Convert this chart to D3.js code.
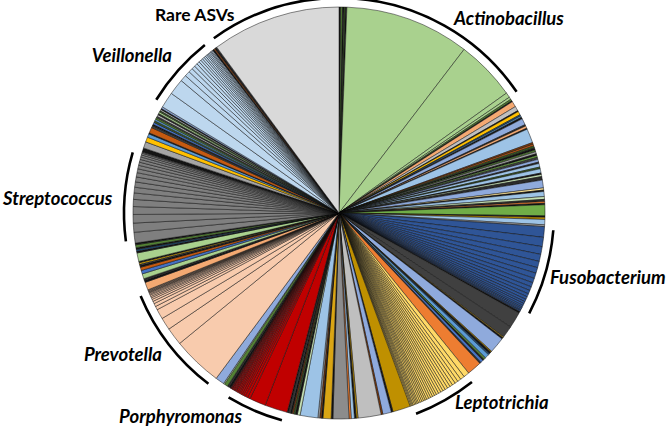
<!DOCTYPE html>
<html>
<head>
<meta charset="utf-8">
<script src="https://cdn.jsdelivr.net/npm/d3@7"></script>
<style>
  html, body { margin: 0; padding: 0; background: #ffffff; }
  svg { display: block; }
</style>
</head>
<body>
<svg id="chart" width="668" height="430"></svg>
<script>
// ---------------- DATA (relative abundance of ASVs, clockwise from 12 o'clock) ----------------
// Labelled genera: one value per ASV
const actinobacillus = [35.2, 17.0, 1.4, 0.7];
const fusobacterium  = [3.0, 2.6, 2.2, 2.0, 1.8, 1.6, 1.5, 1.3, 1.2, 1.1, 1.0, 0.9, 0.8, 0.7, 0.6, 0.6, 0.5, 0.4, 0.4, 0.3, 0.3];
const leptotrichia   = [1.6, 1.2, 1.0, 0.9, 0.9, 0.8, 0.8, 0.8, 0.7, 0.7, 0.7, 0.7, 0.6, 0.6, 0.6, 0.6, 0.6, 0.5, 0.5, 0.5, 0.5, 0.5, 0.4, 0.4, 0.4, 0.4, 0.3, 0.3, 0.3];
const porphyromonas  = [6.4, 4.6, 0.8, 0.7, 0.6, 0.5, 0.5, 0.4, 0.4, 0.4, 0.3, 0.3, 0.3, 0.3, 0.2, 0.2, 0.2];
const prevotella     = [14.1, 5.0, 3.5, 2.8, 1.0, 0.9, 0.7, 0.6, 0.5, 0.4, 0.4, 0.3, 0.3, 0.2, 0.2, 0.2, 0.2, 0.2];
const streptococcus  = [3.0, 2.6, 2.4, 2.2, 2.0, 1.8, 1.6, 1.5, 1.4, 1.2, 1.1, 1.0, 0.9, 0.8, 0.7, 0.6, 0.5, 0.3];
const veillonella    = [4.5, 4.5, 1.8, 1.5, 1.2, 1.0, 0.9, 0.8, 0.7, 0.6, 0.6, 0.5, 0.5, 0.4, 0.4, 0.4, 0.3, 0.3, 0.3];
const rareASVs       = [36.4];

// Unlabelled ASVs of other taxa between the labelled groups: [taxon, abundance]
const minor1 = [["Taxon A",0.5],["Taxon N",0.5],["Taxon A",0.4],["Taxon S",0.4],["Taxon A",0.4]];
const minor2 = [["Taxon N",0.5],["Taxon A",0.3],["Taxon C",1.6],["Taxon H",1.3],["Taxon A",0.3],["Taxon E",1.0],
  ["Taxon R",0.4],["Taxon L",0.4],["Taxon A",0.5],["Taxon F",1.8],["Taxon Q",0.4],["Taxon C",0.7],["Taxon A",0.3],
  ["Taxon G",4.0],["Taxon T",0.5],["Taxon P",0.5],["Taxon S",0.6],["Taxon A",0.6],["Taxon N",0.5],["Taxon I",0.6],
  ["Taxon A",0.5],["Taxon M",0.5],["Taxon J",0.6],["Taxon F",0.8],["Taxon Q",0.4],["Taxon G",1.0],["Taxon S",0.5],
  ["Taxon G",1.2],["Taxon A",0.4],["Taxon O",0.6],["Taxon Q",1.0],["Taxon F",2.2],["Taxon X",0.6],["Taxon A",0.4],
  ["Taxon G",1.4],["Taxon O",0.8],["Taxon Q",0.6],["Taxon B",0.5],["Taxon A",0.4],["Taxon M",3.1],["Taxon A",0.4],
  ["Taxon D",0.6],["Taxon G",1.5],["Taxon I",0.5]];
const minor3 = [["Taxon A",0.5],["Taxon J",4.5],["Taxon J",3.4],["Taxon D",0.3],["Taxon A",0.4],["Taxon F",4.5],
  ["Taxon D",0.3],["Taxon A",0.6],["Taxon R",0.4],["Taxon L",1.2],["Taxon N",0.6],["Taxon A",0.4],["Taxon K",0.8],
  ["Taxon Q",0.4],["Taxon B",4.1]];
const minor4 = [["Taxon D",5.0],["Taxon A",0.5],["Taxon F",2.4],["Taxon T",0.5],["Taxon H",6.5],["Taxon D",0.5],
  ["Taxon A",0.5],["Taxon G",0.9],["Taxon B",0.6],["Taxon U",4.5],["Taxon A",0.5],["Taxon V",2.3],["Taxon A",0.4],
  ["Taxon T",0.5],["Taxon I",0.5],["Taxon G",5.0],["Taxon O",0.8],["Taxon A",0.6],["Taxon S",0.5],["Taxon T",0.4],
  ["Taxon A",0.5],["Taxon J",0.5],["Taxon A",0.4]];
const minor5 = [["Taxon A",0.6],["Taxon Q",0.5],["Taxon N",1.0],["Taxon O",0.3],["Taxon F",2.5]];
const minor6 = [["Taxon C",2.2],["Taxon A",0.6],["Taxon Q",0.5],["Taxon W",1.4],["Taxon K",1.0],["Taxon P",0.9],
  ["Taxon A",0.5],["Taxon J",0.4],["Taxon E",0.4],["Taxon A",0.4],["Taxon W",2.4],["Taxon A",0.5],["Taxon R",0.5],
  ["Taxon A",0.5],["Taxon N",0.8],["Taxon A",0.5]];
const minor7 = [["Taxon A",1.2],["Taxon I",1.8],["Taxon E",1.4],["Taxon L",1.0],["Taxon A",0.3],["Taxon P",1.6],
  ["Taxon J",0.6],["Taxon A",0.4],["Taxon K",0.6],["Taxon S",0.5],["Taxon L",0.5],["Taxon N",0.5],["Taxon J",0.4],
  ["Taxon H",0.5],["Taxon Q",0.4],["Taxon W",0.5],["Taxon S",0.4],["Taxon H",0.4],["Taxon A",0.3],["Taxon F",0.5]];
const minor8 = [["Taxon A",0.4],["Taxon T",0.4],["Taxon A",0.3],["Taxon Q",0.3]];

// Labelled groups (drawn with a bracket and a name)
const labelledGroups = ["Actinobacillus","Fusobacterium","Leptotrichia","Porphyromonas",
                        "Prevotella","Streptococcus","Veillonella","Rare ASVs"];

// ---------------- STYLE ----------------
const taxonColors = {
  "Actinobacillus":"#A9D18E", "Fusobacterium":"#2F5597", "Leptotrichia":"#FFD966",
  "Porphyromonas":"#C00000", "Prevotella":"#F8CBAD", "Streptococcus":"#7F7F7F",
  "Veillonella":"#BDD7EE", "Rare ASVs":"#D9D9D9",
  "Taxon A":"#141414", "Taxon B":"#ED7D31", "Taxon C":"#F4A972", "Taxon D":"#BF9000",
  "Taxon E":"#FFC000", "Taxon F":"#8FAADC", "Taxon G":"#9DC3E6", "Taxon H":"#BFBFBF",
  "Taxon I":"#A5A5A5", "Taxon J":"#404040", "Taxon K":"#4472C4", "Taxon L":"#5B9BD5",
  "Taxon M":"#70AD47", "Taxon N":"#548235", "Taxon O":"#C5E0B4", "Taxon P":"#C55A11",
  "Taxon Q":"#2B2B2B", "Taxon R":"#1F4E79", "Taxon S":"#385723", "Taxon T":"#843C0C",
  "Taxon U":"#8C8C8C", "Taxon V":"#D9A514", "Taxon W":"#A9D18E", "Taxon X":"#FFE699"
};
const color = d3.scaleOrdinal()
  .domain(Object.keys(taxonColors))
  .range(Object.values(taxonColors));

const layout = { cx: 339, cy: 213, r: 206, bracketR: 215, bracketInset: 0.8 };
const labelLayout = {
  "Rare ASVs":      {x: 155, y: 21,  anchor: "start", italic: false, size: 17.5},
  "Actinobacillus": {x: 454, y: 25,  anchor: "start", italic: true,  size: 18.5},
  "Veillonella":    {x: 172, y: 62,  anchor: "end",   italic: true,  size: 18.5},
  "Streptococcus":  {x: 3,   y: 205, anchor: "start", italic: true,  size: 18.5},
  "Prevotella":     {x: 162, y: 361, anchor: "end",   italic: true,  size: 18.5},
  "Porphyromonas":  {x: 242, y: 423, anchor: "end",   italic: true,  size: 18.5},
  "Leptotrichia":   {x: 455, y: 409, anchor: "start", italic: true,  size: 18.5},
  "Fusobacterium":  {x: 550, y: 284, anchor: "start", italic: true,  size: 18.5}
};

// ---------------- BUILD ----------------
const genus = (name, arr) => arr.map(v => ({taxon: name, value: v}));
const minor = arr => arr.map(([t, v]) => ({taxon: t, value: v}));
const slices = [].concat(
  minor(minor1), genus("Actinobacillus", actinobacillus),
  minor(minor2), genus("Fusobacterium", fusobacterium),
  minor(minor3), genus("Leptotrichia", leptotrichia),
  minor(minor4), genus("Porphyromonas", porphyromonas),
  minor(minor5), genus("Prevotella", prevotella),
  minor(minor6), genus("Streptococcus", streptococcus),
  minor(minor7), genus("Veillonella", veillonella),
  minor(minor8), genus("Rare ASVs", rareASVs)
);

const svg = d3.select("#chart");
const g = svg.append("g").attr("transform", `translate(${layout.cx},${layout.cy})`);

const pie = d3.pie().sort(null).value(d => d.value).startAngle(0).endAngle(2 * Math.PI);
const arcs = pie(slices);
const arc = d3.arc().innerRadius(0).outerRadius(layout.r);

g.selectAll("path.slice")
  .data(arcs)
  .join("path")
  .attr("class", "slice")
  .attr("d", arc)
  .attr("fill", d => color(d.data.taxon))
  .attr("stroke", "#111")
  .attr("stroke-width", 0.5)
  .attr("stroke-linejoin", "bevel");

// brackets for labelled groups
const inset = layout.bracketInset * Math.PI / 180;
labelledGroups.forEach(name => {
  const grp = arcs.filter(a => a.data.taxon === name);
  const a0 = d3.min(grp, a => a.startAngle) + inset;
  const a1 = d3.max(grp, a => a.endAngle) - inset;
  const p = d3.path();
  p.arc(0, 0, layout.bracketR, a0 - Math.PI / 2, a1 - Math.PI / 2);
  g.append("path")
    .attr("d", p.toString())
    .attr("fill", "none")
    .attr("stroke", "#000")
    .attr("stroke-width", 2.6)
    .attr("stroke-linecap", "butt");
});

// labels
svg.selectAll("text.label")
  .data(labelledGroups)
  .join("text")
  .attr("class", "label")
  .attr("x", d => labelLayout[d].x)
  .attr("y", d => labelLayout[d].y)
  .attr("text-anchor", d => labelLayout[d].anchor)
  .attr("font-family", "Lato, 'Open Sans', sans-serif")
  .attr("font-size", d => labelLayout[d].size)
  .attr("font-weight", "bold")
  .attr("font-style", d => labelLayout[d].italic ? "italic" : "normal")
  .attr("fill", "#000")
  .text(d => d);
</script>
</body>
</html>
